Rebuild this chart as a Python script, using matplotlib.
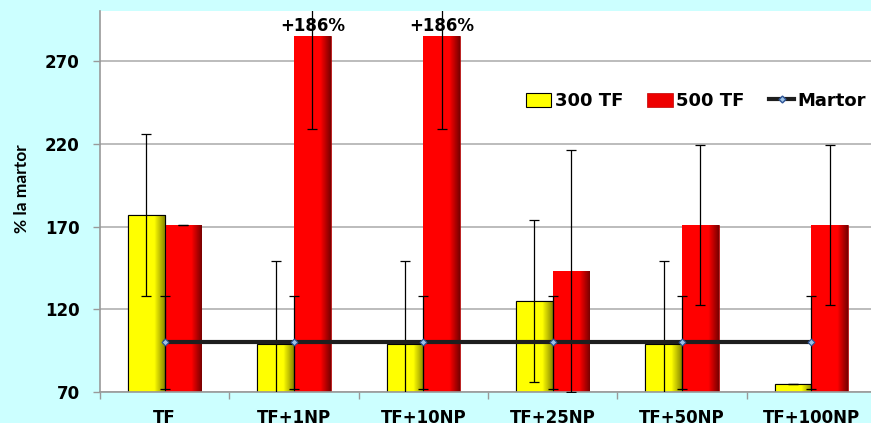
import numpy as np
import matplotlib
matplotlib.use("Agg")
import matplotlib.pyplot as plt
from matplotlib.colors import LinearSegmentedColormap
from matplotlib.lines import Line2D
from matplotlib.patches import Patch

categories = ["TF", "TF+1NP", "TF+10NP", "TF+25NP", "TF+50NP", "TF+100NP"]
tf300 = [177, 99, 99, 125, 99, 75]
tf300_err = [49, 50, 50, 49, 50, 0]
tf500 = [171, 285, 285, 143, 171, 171]
tf500_err = [0, 56, 56, 73, 48.5, 48.5]
martor = [100, 100, 100, 100, 100, 100]
martor_err = [28, 28, 28, 28, 28, 28]
annotations = {1: "+186%", 2: "+186%"}
yticks = [70, 120, 170, 220, 270]
baseline = 70

W, H = 871, 423
fig = plt.figure(figsize=(W / 100, H / 100), dpi=100)
fig.patch.set_facecolor("#CCFFFF")
ax = fig.add_axes([100 / W, 31 / H, 776 / W, 380.5 / H])
ax.set_facecolor("white")

x = np.arange(len(categories))
bw = 0.283

def shade(bars, base, dark):
    cmap = LinearSegmentedColormap.from_list(
        "g", [(0, base), (0.72, base), (1.0, dark)])
    grad = np.linspace(0, 1, 64).reshape(1, -1)
    for b in bars:
        x0, y0 = b.get_x(), b.get_y()
        w, h = b.get_width(), b.get_height()
        im = ax.imshow(grad, cmap=cmap, aspect="auto",
                       extent=[x0, x0 + w, y0, y0 + h], zorder=b.get_zorder(),
                       interpolation="bilinear")
        im.set_clip_path(b)

h300 = [v - baseline for v in tf300]
h500 = [v - baseline for v in tf500]
b1 = ax.bar(x - bw / 2, h300, bw, bottom=baseline, color="#FFFF00",
            edgecolor="black", linewidth=0.8, zorder=2)
b2 = ax.bar(x + bw / 2, h500, bw, bottom=baseline, color="#FF0000",
            edgecolor="#A00000", linewidth=0.5, zorder=2)
shade(b1, "#FFFF00", "#8A8A00")
shade(b2, "#FF0000", "#7A0000")
for b in b1:
    r = plt.Rectangle((b.get_x(), b.get_y()), b.get_width(), b.get_height(),
                      fill=False, edgecolor="black", linewidth=0.8, zorder=2.5)
    ax.add_patch(r)

ax.errorbar(x - bw / 2, tf300, yerr=tf300_err, fmt="none", ecolor="black",
            elinewidth=0.9, capsize=3.5, capthick=0.9, zorder=3)
ax.errorbar(x + bw / 2, tf500, yerr=tf500_err, fmt="none", ecolor="black",
            elinewidth=0.9, capsize=3.5, capthick=0.9, zorder=3)
ax.errorbar(x, martor, yerr=martor_err, fmt="none", ecolor="black",
            elinewidth=0.9, capsize=3.5, capthick=0.9, zorder=4)
ax.plot(x, martor, color="#1E1E1E", linewidth=3, zorder=4.5,
        marker="D", markersize=3.5, markerfacecolor="#9DC3E6",
        markeredgecolor="#2F5597", markeredgewidth=0.8)

for i, txt in annotations.items():
    ax.annotate(txt, (x[i] + bw / 2, tf500[i]), xytext=(0, 1),
                textcoords="offset points", ha="center", va="bottom",
                fontsize=12, fontweight="bold", color="black", zorder=5)

ax.set_ylim(70, 300)
ax.set_xlim(-0.5, len(categories) - 0.5)
ax.set_yticks(yticks)
ax.set_yticklabels([str(v) for v in yticks], fontsize=12, fontweight="bold")
ax.tick_params(axis="y", length=5, width=1, color="#999999", pad=9.5)
ax.yaxis.grid(True, color="#B0B0B0", linewidth=1.2)
ax.set_axisbelow(True)

ax.set_xticks(np.arange(-0.5, len(categories)))
ax.set_xticklabels([])
ax.tick_params(axis="x", which="major", length=5, width=1, color="#999999")
ax.set_xticks(x, minor=True)
ax.set_xticklabels(categories, minor=True, fontsize=12, fontweight="bold")
ax.tick_params(axis="x", which="minor", length=0, pad=12)

for s in ["top", "right"]:
    ax.spines[s].set_visible(False)
for s in ["left", "bottom"]:
    ax.spines[s].set_color("#999999")
    ax.spines[s].set_linewidth(1.2)

fig.text(22 / W, 1 - 189 / H, "% la martor", rotation=90, ha="center",
         va="center", fontsize=12.5, fontweight="bold", family="Lato")

handles = [
    Patch(facecolor="#FFFF00", edgecolor="black", linewidth=0.8),
    Patch(facecolor="#EE0000", edgecolor="#C00000", linewidth=0.5),
    Line2D([0], [0], color="#1E1E1E", linewidth=3, marker="D", markersize=3.5,
           markerfacecolor="#9DC3E6", markeredgecolor="#2F5597"),
]
leg = fig.legend(handles, ["300 TF", "500 TF", "Martor"], ncol=3,
                 loc="center", bbox_to_anchor=(696 / W, 1 - 101 / H),
                 frameon=False, prop={"weight": "bold", "size": 13},
                 handlelength=1.4, handleheight=0.8, handletextpad=0.2,
                 columnspacing=1.35, borderaxespad=0, borderpad=0)

fig.savefig("out.png", dpi=100, facecolor=fig.get_facecolor())
